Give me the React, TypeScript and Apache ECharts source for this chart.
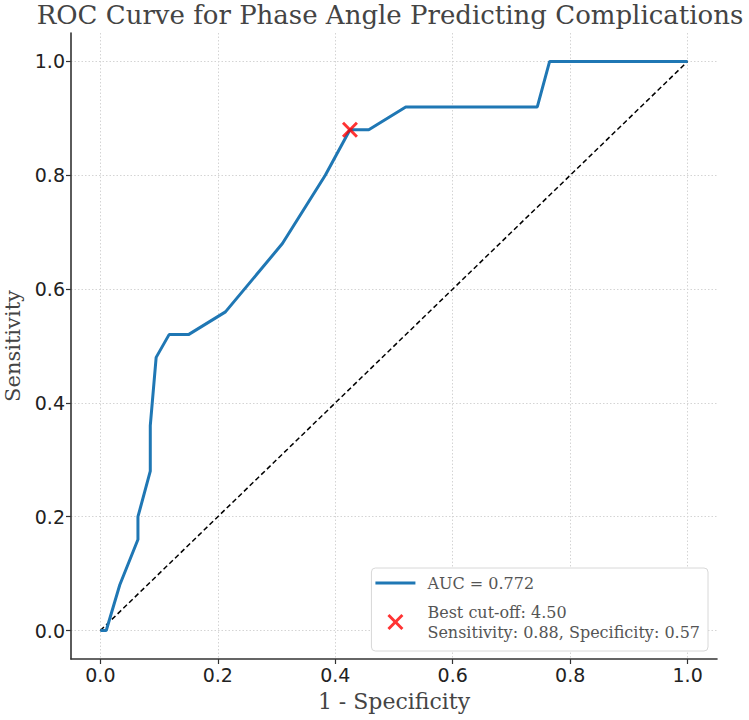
import React, { useEffect, useRef } from "react";
import * as echarts from "echarts";

const fpr = [0, 0.01, 0.033, 0.064, 0.064, 0.085, 0.085, 0.095, 0.117, 0.15, 0.213, 0.31, 0.383, 0.425, 0.457, 0.52, 0.744, 0.765, 1.0];
const tpr = [0, 0, 0.08, 0.16, 0.2, 0.28, 0.36, 0.48, 0.52, 0.52, 0.56, 0.68, 0.8, 0.88, 0.88, 0.92, 0.92, 1.0, 1.0];
const chanceX = [0, 1];
const chanceY = [0, 1];
const bestPoint = [0.425, 0.88];
const tickValues = [0, 0.2, 0.4, 0.6, 0.8, 1.0];
const aucLabel = "AUC = 0.772";
const bestLabel = "Best cut-off: 4.50\nSensitivity: 0.88, Specificity: 0.57";

const XPATH = "path://M0,1.3 L1.3,0 L5,3.7 L8.7,0 L10,1.3 L6.3,5 L10,8.7 L8.7,10 L5,6.3 L1.3,10 L0,8.7 L3.7,5 Z";
const LINEPATH = "path://M0,0 L40,0 L40,3 L0,3 Z";
const SERIF = "'DejaVu Serif', 'Liberation Serif', serif";
const SANS = "'DejaVu Sans', sans-serif";

export default function App() {
  const ref = useRef<HTMLDivElement>(null);
  useEffect(() => {
    if (!ref.current) return;
    const chart = echarts.init(ref.current, undefined, { renderer: "svg" });
    const axisCommon = (name: string, nameSize: number) => ({
      type: "value" as const,
      min: -0.05,
      max: 1.05,
      name,
      nameLocation: "middle" as const,
      nameTextStyle: { fontFamily: SERIF, fontSize: nameSize, color: "#444" },
      axisLine: { show: true, onZero: false, lineStyle: { color: "#333", width: 1.6 } },
      axisTick: { show: true, length: 5, customValues: tickValues, lineStyle: { color: "#333", width: 1.2 } },
      axisLabel: {
        customValues: tickValues,
        fontFamily: SANS,
        fontSize: 19,
        color: "#222",
        margin: 6,
        formatter: (v: number) => v.toFixed(1),
      },
      splitLine: {
        show: true,
        customValues: tickValues,
        lineStyle: { color: "#d4d4d4", type: [1.5, 2], width: 1 },
      },
    });
    chart.setOption({
      animation: false,
      backgroundColor: "#fff",
      title: {
        text: "ROC Curve for Phase Angle Predicting Complications",
        left: 385,
        textAlign: "center",
        top: -3,
        textStyle: { fontFamily: SERIF, fontSize: 26, fontWeight: "normal", color: "#444" },
      },
      grid: { left: 71, right: 32, top: 33, bottom: 61, containLabel: false, outerBoundsMode: "none" },
      xAxis: { ...axisCommon("1 - Specificity", 22), nameGap: 31 },
      yAxis: { ...axisCommon("Sensitivity", 21), nameGap: 47 },
      legend: {
        orient: "vertical",
        right: 41,
        bottom: 69,
        backgroundColor: "#fff",
        borderColor: "#d8d8d8",
        borderWidth: 1,
        borderRadius: 4,
        padding: [5, 8, 9, 4],
        itemGap: 9,
        itemWidth: 40,
        itemHeight: 16,
        symbolKeepAspect: true,
        textStyle: { fontFamily: SERIF, fontSize: 16, color: "#555", lineHeight: 20, padding: [0, 0, 0, 7] },
        data: [
          { name: aucLabel, icon: LINEPATH, itemStyle: { color: "#1f77b4" } },
          { name: bestLabel, icon: XPATH, itemStyle: { color: "red" } },
        ],
      },
      series: [
        {
          name: aucLabel,
          type: "line",
          data: fpr.map((x, i) => [x, tpr[i]]),
          symbol: "none",
          lineStyle: { color: "#1f77b4", width: 3 },
          itemStyle: { color: "#1f77b4" },
          z: 3,
        },
        {
          name: "chance",
          type: "line",
          data: chanceX.map((x, i) => [x, chanceY[i]]),
          symbol: "none",
          lineStyle: { color: "#000", width: 1.5, type: [5, 3] },
          z: 2,
        },
        {
          name: bestLabel,
          type: "scatter",
          data: [bestPoint],
          symbol: XPATH,
          symbolSize: 16,
          itemStyle: { color: "red" },
          z: 4,
        },
      ],
    });
    return () => chart.dispose();
  }, []);
  return <div ref={ref} style={{ width: 749, height: 720, position: "absolute", left: 0, top: 0 }} />;
}
